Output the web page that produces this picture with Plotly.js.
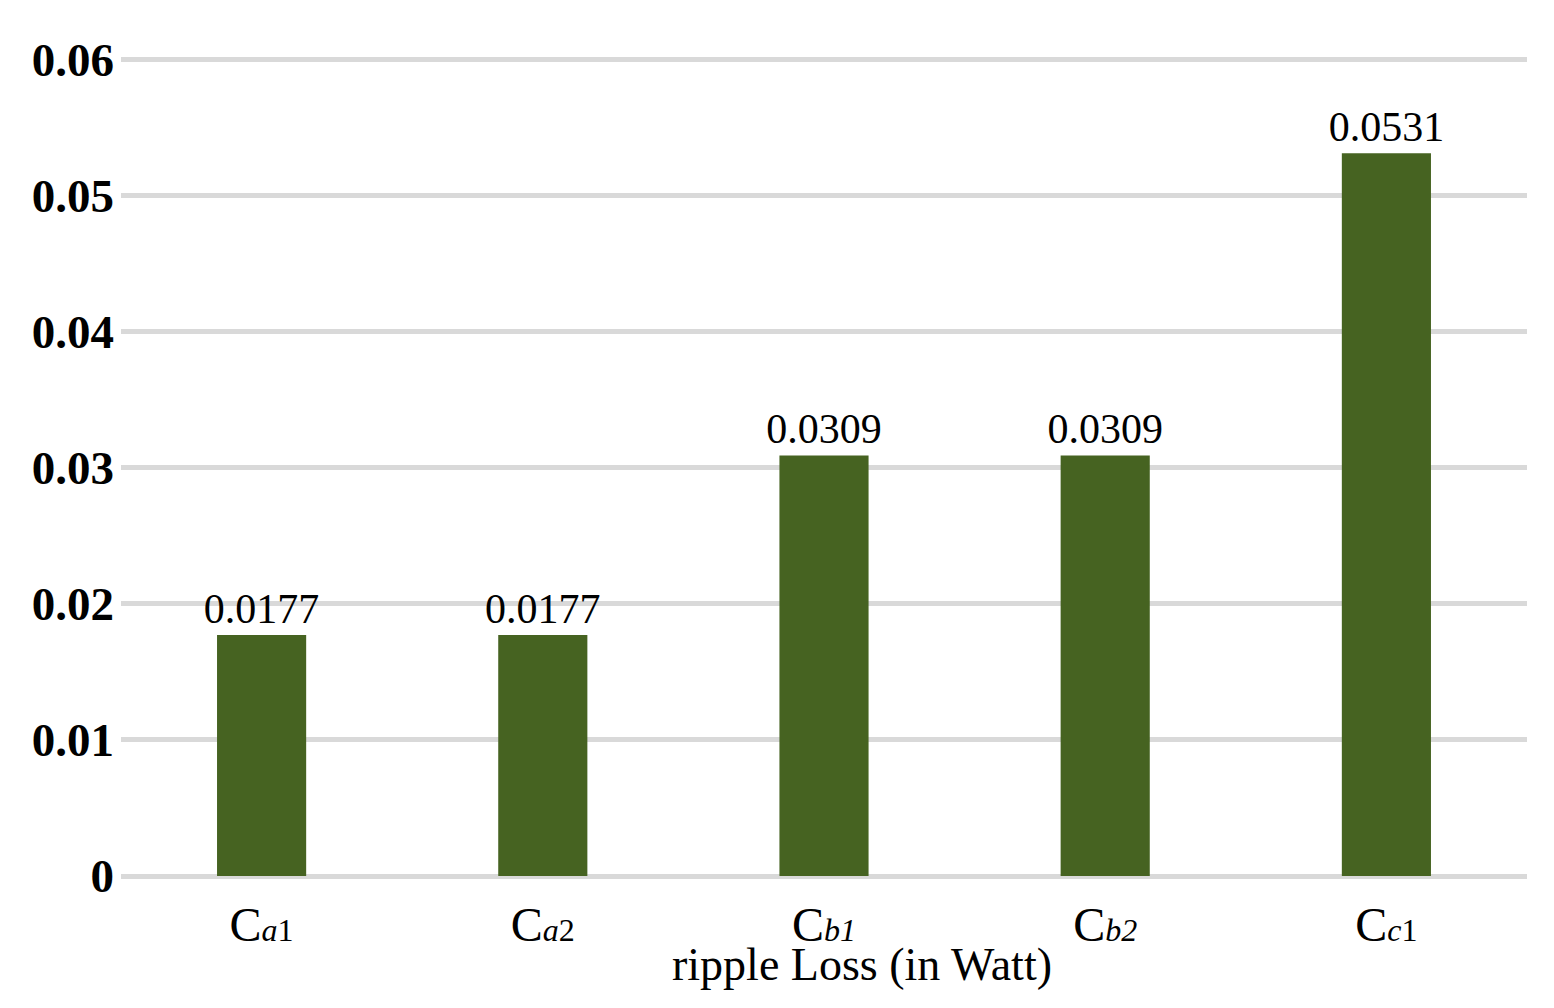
<!DOCTYPE html>
<html>
<head>
<meta charset="utf-8">
<script src="https://cdn.plot.ly/plotly-3.0.1.min.js"></script>
<style>html,body{margin:0;padding:0;background:#fff;}#chart{width:1554px;height:1008px;}</style>
</head>
<body>
<div id="chart"></div>
<script>
var categories = ["Ca1", "Ca2", "Cb1", "Cb2", "Cc1"];
var tickLabels = [
  "C<span style='font-size:32px'><i>a</i>1</span>",
  "C<span style='font-size:32px'><i>a</i>2</span>",
  "C<span style='font-size:32px'><i>b1</i></span>",
  "C<span style='font-size:32px'><i>b2</i></span>",
  "C<span style='font-size:32px'><i>c</i>1</span>"
];
var values = [0.0177, 0.0177, 0.0309, 0.0309, 0.0531];
var valueLabels = ["0.0177", "0.0177", "0.0309", "0.0309", "0.0531"];
var yTicks = [0, 0.01, 0.02, 0.03, 0.04, 0.05, 0.06];
var yTickText = ["0", "0.01", "0.02", "0.03", "0.04", "0.05", "0.06"];
var xTitle = "ripple Loss (in Watt)";

var serif = "Liberation Serif, Times New Roman, serif";

var trace = {
  type: "bar",
  x: categories,
  y: values,
  text: valueLabels,
  texttemplate: "%{text}",
  textposition: "outside",
  constraintext: "none",
  cliponaxis: false,
  textfont: {family: serif, size: 42, color: "#000"},
  marker: {color: "#466321"},
  hoverinfo: "none"
};

var layout = {
  width: 1554,
  height: 1008,
  margin: {l: 121, r: 27, t: 58, b: 132},
  paper_bgcolor: "#fff",
  plot_bgcolor: "#fff",
  showlegend: false,
  bargap: 0.683,
  font: {family: serif, color: "#000"},
  xaxis: {
    type: "category",
    tickvals: categories,
    ticktext: tickLabels,
    tickfont: {family: serif, size: 48, color: "#000"},
    showgrid: false,
    zeroline: false,
    showline: false,
    ticks: "",
    ticklabelstandoff: 16
  },
  yaxis: {
    range: [0, 0.0601],
    tickvals: yTicks,
    ticktext: yTickText,
    tickfont: {family: serif, size: 47, color: "#000", weight: "bold"},
    showgrid: true,
    gridcolor: "#d9d9d9",
    gridwidth: 5,
    zeroline: true,
    zerolinecolor: "#d9d9d9",
    zerolinewidth: 5,
    showline: false,
    ticks: "",
    ticklabelstandoff: 6
  },
  annotations: [{
    text: xTitle,
    xref: "paper",
    yref: "paper",
    x: 0.527,
    y: -0.108,
    xanchor: "center",
    yanchor: "middle",
    showarrow: false,
    font: {family: serif, size: 46, color: "#000"}
  }]
};

Plotly.newPlot("chart", [trace], layout, {displayModeBar: false, staticPlot: true});
</script>
</body>
</html>
